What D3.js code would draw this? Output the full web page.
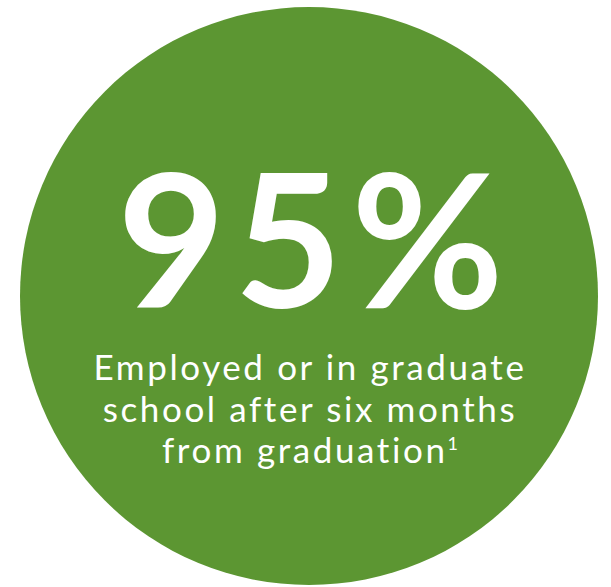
<!DOCTYPE html>
<html>
<head>
<meta charset="utf-8">
<script src="https://cdn.jsdelivr.net/npm/d3@7"></script>
<style>
  body { margin: 0; background: #fff; }
</style>
</head>
<body>
<script>
// stat shown in the badge
var statValue = [0.95];
var statLines = ["Employed or in graduate", "school after six months", "from graduation"];
var footnote = ["1"];

var width = 611, height = 587;
var cx = 309, cy = 296, r = 289;

var svg = d3.select("body").append("svg")
    .attr("width", width)
    .attr("height", height);

svg.append("circle")
    .attr("cx", cx)
    .attr("cy", cy)
    .attr("r", r)
    .attr("fill", "#5c9632");

// big number
svg.selectAll("text.big")
    .data(statValue)
    .enter().append("text")
    .attr("class", "big")
    .attr("x", cx + 6)
    .attr("y", 308)
    .attr("text-anchor", "middle")
    .attr("fill", "#fff")
    .style("font-family", "Lato, sans-serif")
    .style("font-weight", 700)
    .style("font-size", "186px")
    .style("letter-spacing", "9px")
    .text(d3.format(".0%"));

// caption lines
var lineY = d3.scalePoint().domain(d3.range(statLines.length)).range([380, 463]);

var caption = svg.selectAll("text.cap")
    .data(statLines)
    .enter().append("text")
    .attr("class", "cap")
    .attr("x", cx + 1)
    .attr("y", function(d, i){ return lineY(i); })
    .attr("text-anchor", "middle")
    .attr("fill", "#fff")
    .style("font-family", "Lato, sans-serif")
    .style("font-size", "35px")
    .style("letter-spacing", "2.6px")
    .text(function(d){ return d; });

// footnote marker on last line
caption.filter(function(d, i){ return i === statLines.length - 1; })
    .selectAll("tspan")
    .data(footnote)
    .enter().append("tspan")
    .attr("dy", -13)
    .style("font-size", "18px")
    .style("letter-spacing", "0px")
    .text(function(d){ return d; });
</script>
</body>
</html>
